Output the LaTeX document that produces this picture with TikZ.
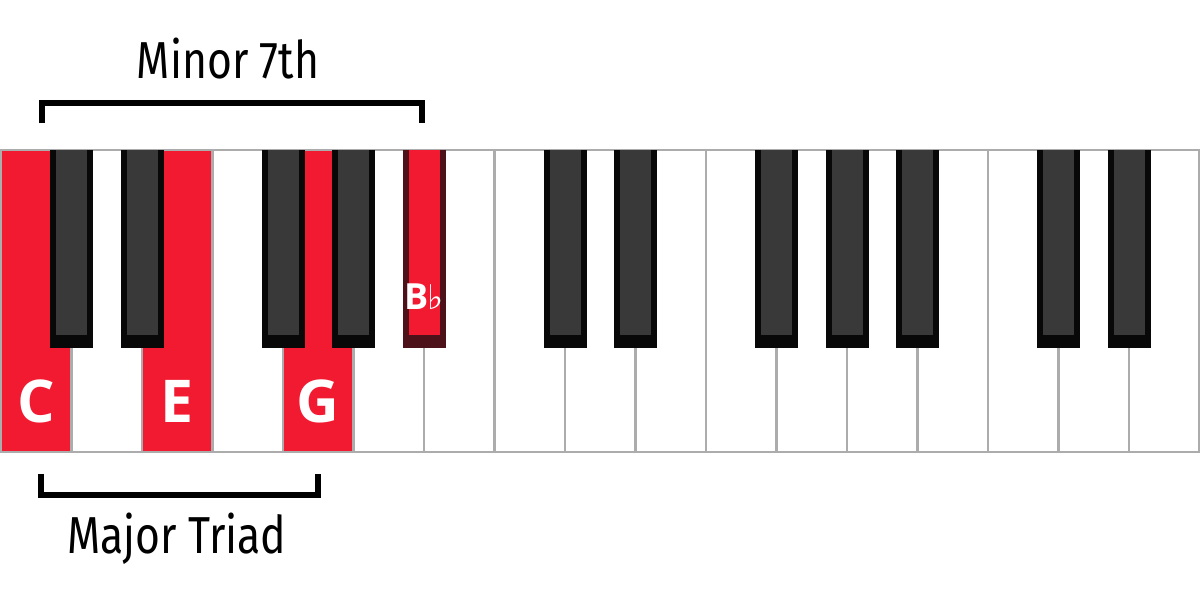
\documentclass[tikz,border=0pt]{standalone}
\usepackage{fontspec}
\usepackage{tikz}
\usetikzlibrary{positioning}
\newfontfamily\keyfont{Open Sans}
\newfontfamily\handfont[FakeStretch=0.82]{Fira Sans}
\newfontfamily\symfont{DejaVu Sans}
\definecolor{keyred}{RGB}{242,26,48}
\definecolor{keygrey}{RGB}{172,172,172}
\definecolor{blackedge}{RGB}{8,8,8}
\definecolor{blackface}{RGB}{57,57,57}
\definecolor{rededge}{RGB}{77,17,25}

\begin{document}
\begin{tikzpicture}[x=1pt,y=-1pt,
  whitekey/.style={draw=keygrey,line width=2.5pt,fill=white,minimum width=70.5pt,minimum height=302pt,inner sep=0pt,outer sep=0pt,anchor=north west},
  blackkey/.style={fill=blackedge,minimum width=43pt,minimum height=198pt,inner sep=0pt,outer sep=0pt,anchor=north},
  blacktop/.style={fill=blackface,minimum width=31pt,minimum height=185pt,inner sep=0pt,outer sep=0pt,anchor=north},
  notelabel/.style={text=white,inner sep=0pt,font=\keyfont\bfseries\fontsize{59}{59}\selectfont},
  handtext/.style={inner sep=0pt,anchor=base,font=\handfont\fontsize{52}{52}\selectfont},
  bracket/.style={line width=6pt}]
\useasboundingbox (0,0) rectangle (1200,605);

% white keys, C E G in red
\foreach \i in {0,...,16}
  \node[whitekey] (w\i) at ({1+70.5*\i},150) {};
\foreach \i in {0,2,4}
  \node[whitekey,fill=keyred] (r\i) at (w\i.north west) {};

% black keys, Bb in red
\foreach \k in {1,2,4,5,8,9,11,12,13,15,16}{
  \node[blackkey] (b\k) at (w\k.north west) {};
  \node[blacktop] (t\k) at (b\k.north) {};
}
\node[blackkey,fill=rededge] (b6) at (w6.north west) {};
\node[blacktop,fill=keyred] (t6) at (b6.north) {};

% note names
\node[notelabel] (lc) at ([yshift=-100pt]r0.center) {C};
\node[notelabel] (le) at ([yshift=-100pt]r2.center) {E};
\node[notelabel] (lg) at ([yshift=-100pt]r4.center) {G};
\node[text=white,inner sep=0pt] (lbb) at ([yshift=-48pt]b6.center)
  {\keyfont\bfseries\fontsize{36}{36}\selectfont B\kern-1pt\symfont\mdseries\fontsize{34}{34}\selectfont ♭};

% brackets
\node[handtext] (minor) at (228,78) {Minor 7th};
\coordinate (topL) at (42,123);
\coordinate (topR) at (422,123);
\draw[bracket] (topL) -- ++(0,-20) -| (topR);

\coordinate (botL) at (41,474);
\coordinate (botR) at (318,474);
\draw[bracket] (botL) -- ++(0,21) -| (botR);
\node[handtext] (major) at (177,553) {Major Triad};
\end{tikzpicture}
\end{document}
